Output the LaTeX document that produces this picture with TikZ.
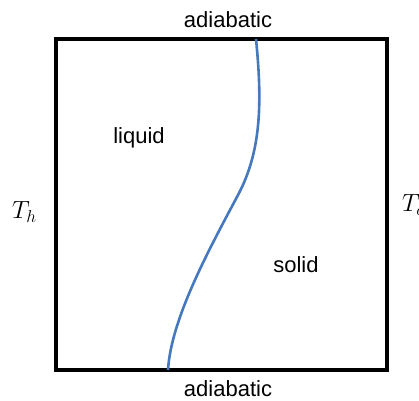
\documentclass[tikz,border=0pt]{standalone}
\usepackage{fontspec}
\setmainfont{Liberation Sans}
\begin{document}
\begin{tikzpicture}[x=1pt,y=-1pt,
  lab/.style={font=\fontsize{22}{26}\selectfont, inner sep=0pt},
  mlab/.style={font=\fontsize{24}{28}\selectfont, inner sep=0pt, anchor=west}]
\useasboundingbox (0,0) rectangle (419,400);
\draw[line width=4] (56,39) rectangle (387,370);
\coordinate (top) at (256,39);
\coordinate (mid) at (238,195);
\coordinate (bot) at (168,370);
\draw[line width=2.6, color={rgb,255:red,70;green,120;blue,190}] (top)
  .. controls (262,100) and (262,150) .. (mid)
  .. controls (206.8,253.5) and (171,320) .. (bot);
\node[lab] (adt) at (228,20) {adiabatic};
\node[lab] (adb) at (228,389) {adiabatic};
\node[lab] (liq) at (139,138) {liquid};
\node[lab] (sol) at (296,265) {solid};
\node[mlab] (th) at (12,212) {$T_h$};
\node[mlab] (tc) at (402,205) {$T_c$};
\end{tikzpicture}
\end{document}
